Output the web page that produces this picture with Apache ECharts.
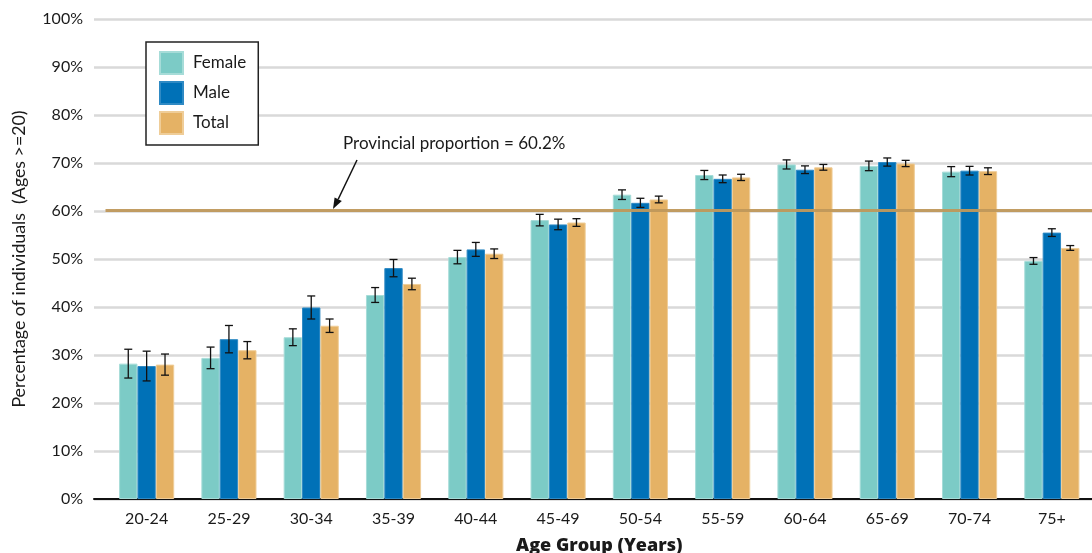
<!DOCTYPE html>
<html>
<head>
<meta charset="utf-8">
<script src="https://cdn.jsdelivr.net/npm/echarts@6/dist/echarts.min.js"></script>
<style>
  html, body { margin: 0; padding: 0; background: #ffffff; }
  #chart { width: 1092px; height: 553px; }
</style>
</head>
<body>
<div id="chart"></div>
<script>
// Share of adults (20+) by age group and sex, with 95% error bars
const categories = ['20-24', '25-29', '30-34', '35-39', '40-44', '45-49', '50-54', '55-59', '60-64', '65-69', '70-74', '75+'];
const female    = [28.2, 29.4, 33.7, 42.5, 50.4, 58.1, 63.4, 67.5, 69.7, 69.4, 68.2, 49.6];
const femaleErr = [3.0, 2.25, 1.75, 1.55, 1.4, 1.2, 1.0, 0.95, 0.95, 1.0, 1.05, 0.7];
const male      = [27.7, 33.3, 39.9, 48.1, 52.0, 57.2, 61.7, 66.7, 68.6, 70.2, 68.4, 55.5];
const maleErr   = [3.1, 2.85, 2.4, 1.8, 1.45, 1.1, 0.95, 0.8, 0.8, 0.85, 0.9, 0.8];
const total     = [28.0, 31.0, 36.1, 44.8, 51.1, 57.6, 62.4, 67.0, 69.1, 69.9, 68.3, 52.3];
const totalErr  = [2.2, 1.8, 1.4, 1.2, 1.0, 0.8, 0.7, 0.65, 0.6, 0.65, 0.7, 0.5];
const provincial = 60.2;
const yTicks = [0, 10, 20, 30, 40, 50, 60, 70, 80, 90, 100];

const FONT = 'Lato';
const TEXT = '#1a1a1a';
const COLORS = { Female: '#7ccbc6', Male: '#0071b7', Total: '#e5b265' };
const CAT_GAP = 0.33;

const chart = echarts.init(document.getElementById('chart'), null, { renderer: 'canvas' });

function errorSeries(name, values, errs, slot) {
  return {
    type: 'custom',
    name: name + ' error',
    xAxisIndex: 1,
    yAxisIndex: 1,
    z: 5,
    silent: true,
    data: values.map((v, i) => [i, v, errs[i]]),
    encode: { x: 0, y: 1 },
    renderItem: function (params, api) {
      const idx = api.value(0);
      const v = api.value(1);
      const e = api.value(2);
      const band = api.size([1, 0])[0];
      const barW = band * (1 - CAT_GAP) / 3;
      const cx = api.coord([idx, v])[0] + (slot - 1) * barW;
      const yTop = api.coord([idx, v + e])[1];
      const yBot = api.coord([idx, v - e])[1];
      const half = 4;
      const style = { stroke: '#111', lineWidth: 1.3 };
      return {
        type: 'group',
        children: [
          { type: 'line', shape: { x1: cx, y1: yTop, x2: cx, y2: yBot }, style: style },
          { type: 'line', shape: { x1: cx - half, y1: yTop, x2: cx + half, y2: yTop }, style: style },
          { type: 'line', shape: { x1: cx - half, y1: yBot, x2: cx + half, y2: yBot }, style: style }
        ]
      };
    }
  };
}

function barSeries(name, values, border) {
  return {
    type: 'bar',
    name: name,
    xAxisIndex: 1,
    yAxisIndex: 1,
    data: values,
    barGap: '0%',
    barCategoryGap: (CAT_GAP * 100) + '%',
    itemStyle: { color: COLORS[name], borderColor: border, borderWidth: 1 },
    emphasis: { disabled: true }
  };
}

const option = {
  animation: false,
  backgroundColor: '#ffffff',
  textStyle: { fontFamily: FONT, color: TEXT },
  grid: [
    { left: 94, right: 0, top: 19, bottom: 54, containLabel: false, outerBoundsMode: 'none' },
    { left: 105.5, right: -1, top: 19, bottom: 54, containLabel: false, outerBoundsMode: 'none' }
  ],
  legend: {
    data: ['Female', 'Male', 'Total'],
    orient: 'vertical',
    left: 146,
    top: 42,
    padding: [9, 12, 10, 13],
    itemWidth: 23,
    itemHeight: 22,
    itemGap: 6,
    icon: 'rect',
    borderColor: '#222',
    borderWidth: 1.5,
    backgroundColor: '#ffffff',
    selectedMode: false,
    textStyle: { fontFamily: FONT, fontSize: 17, lineHeight: 22, color: TEXT, padding: [0, 0, 0, 5] }
  },
  xAxis: [
    {
      type: 'value', gridIndex: 0, min: 0, max: 1,
      axisLine: { show: true, onZero: false, lineStyle: { color: '#111', width: 2 } },
      axisTick: { show: false }, axisLabel: { show: false }, splitLine: { show: false }
    },
    {
      type: 'category', gridIndex: 1, data: categories,
      axisLine: { show: false }, axisTick: { show: false },
      axisLabel: { fontFamily: FONT, fontSize: 16, color: TEXT, margin: 12 },
      name: 'Age Group (Years)', nameLocation: 'middle', nameGap: 38,
      nameTextStyle: { fontFamily: 'Open Sans', fontSize: 18, fontWeight: 800, color: TEXT }
    }
  ],
  yAxis: [
    {
      type: 'value', gridIndex: 0, min: yTicks[0], max: yTicks[yTicks.length - 1], interval: yTicks[1] - yTicks[0],
      axisLine: { show: false }, axisTick: { show: false },
      axisLabel: { fontFamily: FONT, fontSize: 16, color: TEXT, margin: 11, formatter: '{value}%' },
      splitLine: { lineStyle: { color: '#d9d9d9', width: 2.5 } },
      name: 'Percentage of individuals  (Ages >=20)', nameLocation: 'middle', nameGap: 66,
      nameTextStyle: { fontFamily: FONT, fontSize: 17.8, color: TEXT }
    },
    {
      type: 'value', gridIndex: 1, min: yTicks[0], max: yTicks[yTicks.length - 1], show: false
    }
  ],
  series: [
    Object.assign(barSeries('Female', female, '#a6dcd8'), {
      markLine: {
        silent: true, symbol: 'none', label: { show: false },
        lineStyle: { color: '#bf985b', width: 3, type: 'solid', opacity: 0.95 },
        data: [{ yAxis: provincial }]
      }
    }),
    barSeries('Male', male, '#2f8ac4'),
    barSeries('Total', total, '#efcd98'),
    errorSeries('Female', female, femaleErr, 0),
    errorSeries('Male', male, maleErr, 1),
    errorSeries('Total', total, totalErr, 2)
  ]
};

chart.setOption(option);

// Callout for the provincial reference line
const tipY = chart.convertToPixel({ xAxisIndex: 1, yAxisIndex: 1 }, [0, provincial])[1];
const tipX = 333;
const tailX = 357, tailY = 160;
const ang = Math.atan2(tipY - tailY, tipX - tailX);
const headLen = 12, headHalf = 4;
const bx = tipX - headLen * Math.cos(ang), by = tipY - headLen * Math.sin(ang);
const px = -Math.sin(ang) * headHalf, py = Math.cos(ang) * headHalf;

chart.setOption({
  graphic: [
    {
      type: 'text', left: 343, top: 135, z: 10,
      style: { text: 'Provincial proportion = ' + provincial + '%', fontFamily: FONT, fontSize: 17, fill: TEXT }
    },
    {
      type: 'line', z: 10,
      shape: { x1: tailX, y1: tailY, x2: bx, y2: by },
      style: { stroke: '#111', lineWidth: 1.5 }
    },
    {
      type: 'polygon', z: 10,
      shape: { points: [[tipX, tipY - 1], [bx + px, by + py], [bx - px, by - py]] },
      style: { fill: '#111' }
    }
  ]
});
</script>
</body>
</html>
